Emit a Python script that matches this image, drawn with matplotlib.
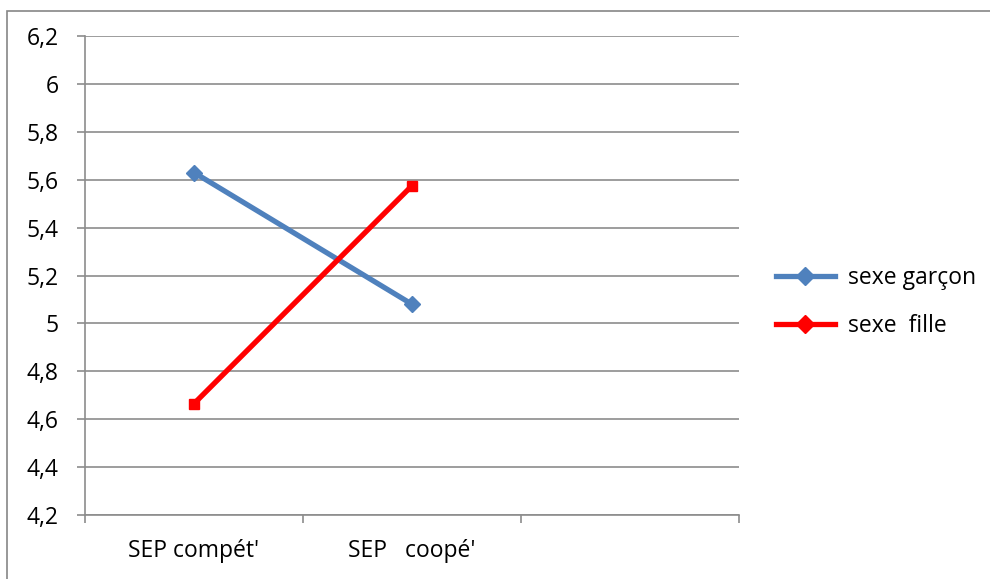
import matplotlib
matplotlib.use("Agg")
import matplotlib.pyplot as plt
from matplotlib.patches import Rectangle
from matplotlib.lines import Line2D

plt.rcParams['font.family'] = ['Open Sans', 'DejaVu Sans']

categories = ["SEP compét'", "SEP   coopé'", ""]
garcon = [5.63, 5.08]
fille = [4.665, 5.575]
yticks = [4.2, 4.4, 4.6, 4.8, 5.0, 5.2, 5.4, 5.6, 5.8, 6.0, 6.2]
ylabels = ["4,2", "4,4", "4,6", "4,8", "5", "5,2", "5,4", "5,6", "5,8", "6", "6,2"]

blue = "#4F81BD"
red = "#FF0000"
grid = "#8C8C8C"
fs = 16.5

fig = plt.figure(figsize=(9.9, 5.79), dpi=100)
ax = fig.add_axes([85/990, 1-515/579, (739-85)/990, (515-36)/579])

# outer chart border
fig.add_artist(Rectangle((7/990, -0.1), 1.2, 1-11/579+0.1, transform=fig.transFigure,
                         fill=False, edgecolor="#868686", lw=1.2))

x = list(range(len(garcon)))
ax.plot(x, garcon, color=blue, lw=3.8, marker='D', ms=8.5, label="sexe garçon")
ax.plot(x, fille, color=red, lw=3.8, marker='s', ms=7.5, label="sexe  fille")

ax.set_ylim(4.2, 6.2)
ax.set_xlim(-0.5, len(categories) - 0.5)
ax.set_yticks(yticks)
ax.set_yticklabels(ylabels, fontsize=fs)
ax.yaxis.grid(True, color=grid, lw=1.2)
ax.set_axisbelow(True)

ax.set_xticks([i - 0.5 for i in range(len(categories) + 1)])
ax.set_xticklabels([])
ax.set_xticks(range(len(categories)), minor=True)
ax.set_xticklabels(categories, minor=True, fontsize=fs)
ax.tick_params(axis='x', which='minor', length=0, pad=17)
ax.tick_params(axis='both', which='major', color=grid, length=6, width=1.2)
ax.tick_params(axis='y', pad=13)

for s in ['top', 'right']:
    ax.spines[s].set_visible(False)
for s in ['left', 'bottom']:
    ax.spines[s].set_color(grid)
    ax.spines[s].set_linewidth(1.2)

handles = [Line2D([], [], color=blue, lw=3.8, marker='D', ms=9),
           Line2D([], [], color=red, lw=3.8, marker='D', ms=9)]
fig.legend(handles, ["sexe garçon", "sexe  fille"], loc='center left',
           bbox_to_anchor=(755/990, 1-302/579), frameon=False, fontsize=fs,
           handlelength=2.6, labelspacing=1.05, handletextpad=0.55)

fig.savefig("out.png", dpi=100)
